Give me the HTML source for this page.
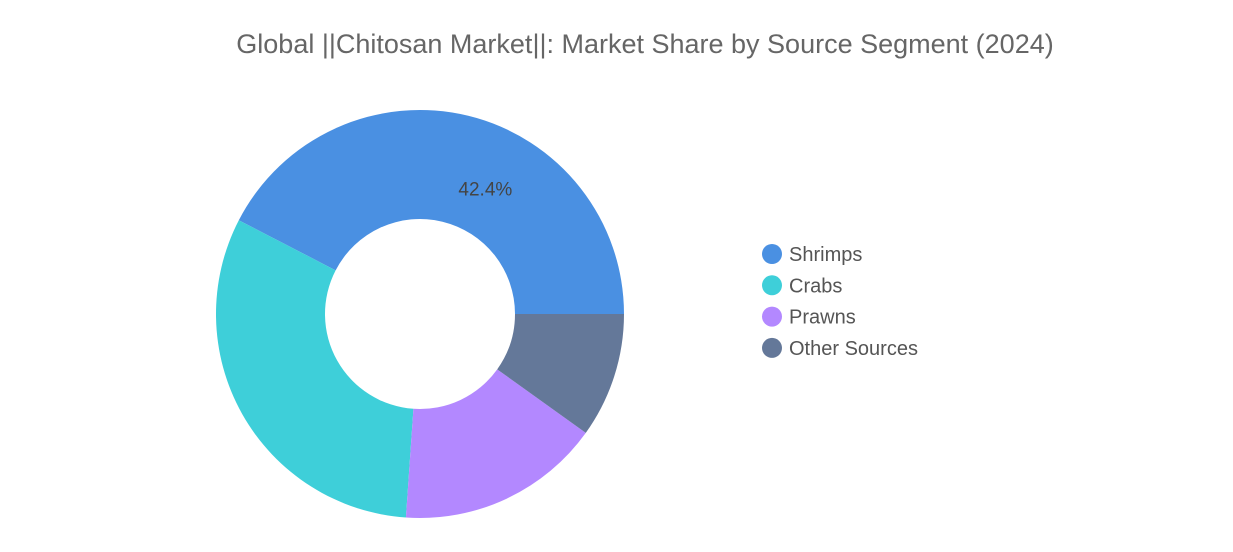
<!DOCTYPE html>
<html><head><meta charset="utf-8"><style>
html,body{margin:0;padding:0;background:#fff;}
body{width:1233px;height:547px;overflow:hidden;font-family:"Liberation Sans",sans-serif;}
</style></head><body>
<svg width="1233" height="547">
<text x="645" y="53" text-anchor="middle" font-size="27" fill="#666">Global ||Chitosan Market||: Market Share by Source Segment (2024)</text>
<g id="donut"></g>
<g id="legend"></g>
</svg>
<script>
const categories=["Shrimps","Crabs","Prawns","Other Sources"];
const values=[42.4,31.5,16.2,9.9];
const colors=["#4a90e2","#3ecfd9","#b388ff","#647899"];
const ns="http://www.w3.org/2000/svg";
const cx=420,cy=314,R=204,r=95;
const total=values.reduce((a,b)=>a+b,0);
const g=document.getElementById("donut");
function pt(a,rad){return [cx+rad*Math.cos(a),cy-rad*Math.sin(a)];}
let start=0;
values.forEach((v,i)=>{
  const sweep=v/total*2*Math.PI,end=start+sweep;
  const [x1,y1]=pt(start,R),[x2,y2]=pt(end,R),[x3,y3]=pt(end,r),[x4,y4]=pt(start,r);
  const lg=sweep>Math.PI?1:0;
  const p=document.createElementNS(ns,"path");
  p.setAttribute("d",`M${x1},${y1} A${R},${R} 0 ${lg} 0 ${x2},${y2} L${x3},${y3} A${r},${r} 0 ${lg} 1 ${x4},${y4} Z`);
  p.setAttribute("fill",colors[i]);
  
  
  g.appendChild(p);
  if(i===0){
    const mid=start+sweep/2;const [tx,ty]=pt(mid,(R+r)/2);
    const t=document.createElementNS(ns,"text");
    t.setAttribute("x",tx+30);t.setAttribute("y",ty+27);
    t.setAttribute("text-anchor","middle");t.setAttribute("font-size","19");t.setAttribute("fill","#444");
    t.textContent=v.toFixed(1)+"%";
    
    
    g.appendChild(t);
  }
  start=end;
});
const lgd=document.getElementById("legend");
categories.forEach((c,i)=>{
  const y=254+i*31.3;
  const e=document.createElementNS(ns,"g");
  
  
  const ci=document.createElementNS(ns,"circle");
  ci.setAttribute("cx",772);ci.setAttribute("cy",y);ci.setAttribute("r",10);ci.setAttribute("fill",colors[i]);
  const t=document.createElementNS(ns,"text");
  t.setAttribute("x",789);t.setAttribute("y",y+7);t.setAttribute("font-size","20");t.setAttribute("fill","#555");
  t.textContent=c;
  e.appendChild(ci);e.appendChild(t);lgd.appendChild(e);
});
</script>
</body></html>
